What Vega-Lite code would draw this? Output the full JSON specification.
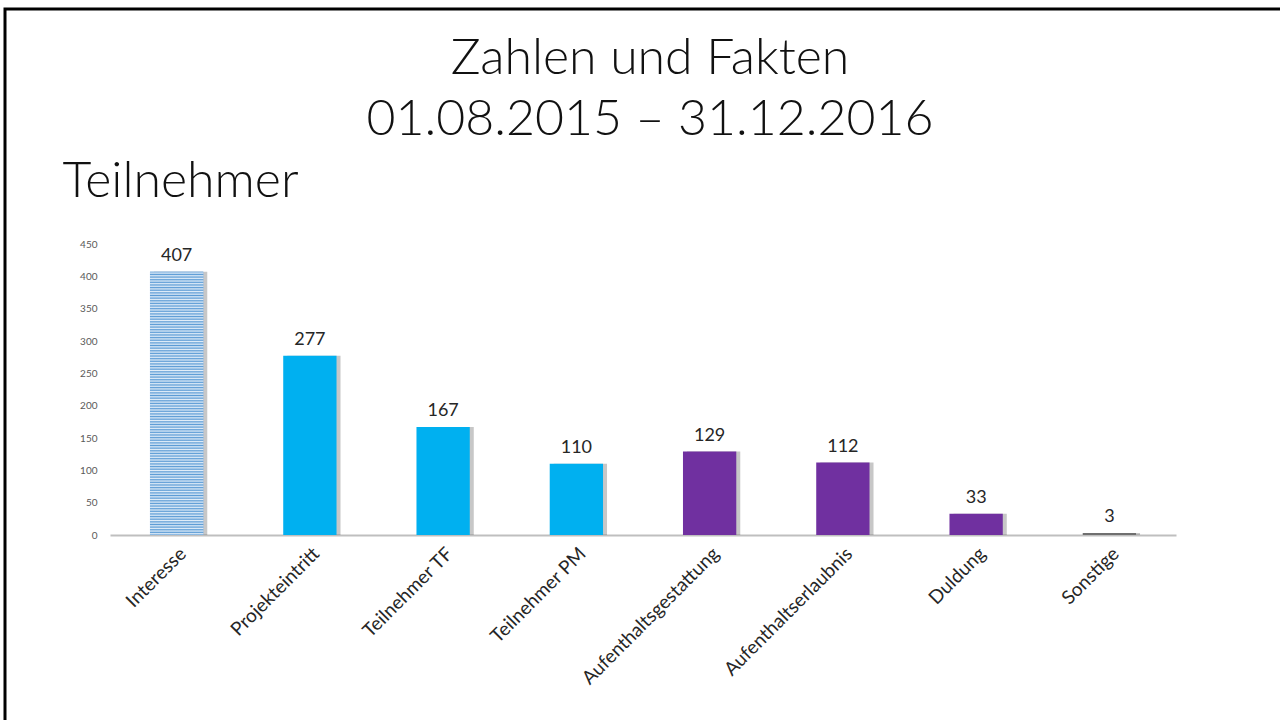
{
  "$schema": "https://vega.github.io/schema/vega-lite/v6.json",
  "width": 1300,
  "height": 760,
  "autosize": {"type": "none"},
  "padding": {"left": 5, "top": 9, "right": 0, "bottom": 0},
  "background": "white",
  "config": {
    "view": {"stroke": "#000000", "strokeWidth": 3},
    "font": "Lato"
  },
  "title": {
    "text": ["Zahlen und Fakten", "01.08.2015 – 31.12.2016"],
    "frame": "group",
    "anchor": "middle",
    "orient": "top",
    "baseline": "top",
    "offset": -136,
    "dx": -5,
    "fontSize": 50,
    "font": "Lato",
    "fontWeight": 300,
    "lineHeight": 61,
    "color": "#111111"
  },
  "data": {
    "values": [
      {"Kategorie": "Interesse", "Anzahl": 407, "Gruppe": "Interesse"},
      {"Kategorie": "Projekteintritt", "Anzahl": 277, "Gruppe": "Teilnahme"},
      {"Kategorie": "Teilnehmer TF", "Anzahl": 167, "Gruppe": "Teilnahme"},
      {"Kategorie": "Teilnehmer PM", "Anzahl": 110, "Gruppe": "Teilnahme"},
      {"Kategorie": "Aufenthaltsgestattung", "Anzahl": 129, "Gruppe": "Status"},
      {"Kategorie": "Aufenthaltserlaubnis", "Anzahl": 112, "Gruppe": "Status"},
      {"Kategorie": "Duldung", "Anzahl": 33, "Gruppe": "Status"},
      {"Kategorie": "Sonstige", "Anzahl": 3, "Gruppe": "Sonstige"}
    ]
  },
  "encoding": {
    "x": {
      "field": "Kategorie",
      "type": "nominal",
      "sort": null,
      "scale": {"range": [105, 1171], "paddingInner": 0.6, "paddingOuter": 0.3},
      "axis": {
        "title": null,
        "offset": -234,
        "labelAngle": -45,
        "labelFontSize": 19,
        "labelColor": "#262626",
        "labelFont": "Lato",
        "labelPadding": 9,
        "labelLimit": 0,
        "labelOverlap": false,
        "ticks": false,
        "domainColor": "#bfbfbf",
        "domainWidth": 2,
        "grid": false
      }
    },
    "y": {
      "field": "Anzahl",
      "type": "quantitative",
      "scale": {"domain": [0, 450], "range": [526, 235], "nice": false},
      "axis": {
        "values": [0, 50, 100, 150, 200, 250, 300, 350, 400, 450],
        "offset": -95,
        "domain": false,
        "ticks": false,
        "grid": false,
        "labelFontSize": 10,
        "labelColor": "#595959",
        "labelPadding": 3,
        "title": "Teilnehmer",
        "titleAngle": 0,
        "titleAlign": "left",
        "titleBaseline": "alphabetic",
        "titleX": -38,
        "titleY": 187,
        "titleFontSize": 50,
        "titleFontWeight": 300,
        "titleFont": "Lato",
        "titleColor": "#111111"
      }
    }
  },
  "layer": [
    {
      "mark": {"type": "bar", "color": "#000000", "opacity": 0.22, "xOffset": 4}
    },
    {
      "mark": {"type": "bar"},
      "encoding": {
        "color": {
          "field": "Gruppe",
          "type": "nominal",
          "scale": {
            "domain": ["Interesse", "Teilnahme", "Status", "Sonstige"],
            "range": ["#86b3e0", "#00b0f0", "#7030a0", "#6f6f6f"]
          },
          "legend": null
        }
      }
    },
    {
      "transform": [{"filter": "datum.Kategorie == 'Interesse'"}],
      "mark": {
        "type": "bar",
        "color": {
          "gradient": "linear",
          "x1": 0, "y1": 0, "x2": 0, "y2": 1,
          "stops": [
            {"offset": 0, "color": "#5b9bd5"}, {"offset": 0.005, "color": "#e2eef9"}, {"offset": 0.01, "color": "#5b9bd5"}, {"offset": 0.015, "color": "#e2eef9"}, {"offset": 0.02, "color": "#5b9bd5"}, {"offset": 0.025, "color": "#e2eef9"}, {"offset": 0.03, "color": "#5b9bd5"}, {"offset": 0.035, "color": "#e2eef9"}, {"offset": 0.04, "color": "#5b9bd5"}, {"offset": 0.045, "color": "#e2eef9"},
            {"offset": 0.05, "color": "#5b9bd5"}, {"offset": 0.055, "color": "#e2eef9"}, {"offset": 0.06, "color": "#5b9bd5"}, {"offset": 0.065, "color": "#e2eef9"}, {"offset": 0.07, "color": "#5b9bd5"}, {"offset": 0.075, "color": "#e2eef9"}, {"offset": 0.08, "color": "#5b9bd5"}, {"offset": 0.085, "color": "#e2eef9"}, {"offset": 0.09, "color": "#5b9bd5"}, {"offset": 0.095, "color": "#e2eef9"},
            {"offset": 0.1, "color": "#5b9bd5"}, {"offset": 0.105, "color": "#e2eef9"}, {"offset": 0.11, "color": "#5b9bd5"}, {"offset": 0.115, "color": "#e2eef9"}, {"offset": 0.12, "color": "#5b9bd5"}, {"offset": 0.125, "color": "#e2eef9"}, {"offset": 0.13, "color": "#5b9bd5"}, {"offset": 0.135, "color": "#e2eef9"}, {"offset": 0.14, "color": "#5b9bd5"}, {"offset": 0.145, "color": "#e2eef9"},
            {"offset": 0.15, "color": "#5b9bd5"}, {"offset": 0.155, "color": "#e2eef9"}, {"offset": 0.16, "color": "#5b9bd5"}, {"offset": 0.165, "color": "#e2eef9"}, {"offset": 0.17, "color": "#5b9bd5"}, {"offset": 0.175, "color": "#e2eef9"}, {"offset": 0.18, "color": "#5b9bd5"}, {"offset": 0.185, "color": "#e2eef9"}, {"offset": 0.19, "color": "#5b9bd5"}, {"offset": 0.195, "color": "#e2eef9"},
            {"offset": 0.2, "color": "#5b9bd5"}, {"offset": 0.205, "color": "#e2eef9"}, {"offset": 0.21, "color": "#5b9bd5"}, {"offset": 0.215, "color": "#e2eef9"}, {"offset": 0.22, "color": "#5b9bd5"}, {"offset": 0.225, "color": "#e2eef9"}, {"offset": 0.23, "color": "#5b9bd5"}, {"offset": 0.235, "color": "#e2eef9"}, {"offset": 0.24, "color": "#5b9bd5"}, {"offset": 0.245, "color": "#e2eef9"},
            {"offset": 0.25, "color": "#5b9bd5"}, {"offset": 0.255, "color": "#e2eef9"}, {"offset": 0.26, "color": "#5b9bd5"}, {"offset": 0.265, "color": "#e2eef9"}, {"offset": 0.27, "color": "#5b9bd5"}, {"offset": 0.275, "color": "#e2eef9"}, {"offset": 0.28, "color": "#5b9bd5"}, {"offset": 0.285, "color": "#e2eef9"}, {"offset": 0.29, "color": "#5b9bd5"}, {"offset": 0.295, "color": "#e2eef9"},
            {"offset": 0.3, "color": "#5b9bd5"}, {"offset": 0.305, "color": "#e2eef9"}, {"offset": 0.31, "color": "#5b9bd5"}, {"offset": 0.315, "color": "#e2eef9"}, {"offset": 0.32, "color": "#5b9bd5"}, {"offset": 0.325, "color": "#e2eef9"}, {"offset": 0.33, "color": "#5b9bd5"}, {"offset": 0.335, "color": "#e2eef9"}, {"offset": 0.34, "color": "#5b9bd5"}, {"offset": 0.345, "color": "#e2eef9"},
            {"offset": 0.35, "color": "#5b9bd5"}, {"offset": 0.355, "color": "#e2eef9"}, {"offset": 0.36, "color": "#5b9bd5"}, {"offset": 0.365, "color": "#e2eef9"}, {"offset": 0.37, "color": "#5b9bd5"}, {"offset": 0.375, "color": "#e2eef9"}, {"offset": 0.38, "color": "#5b9bd5"}, {"offset": 0.385, "color": "#e2eef9"}, {"offset": 0.39, "color": "#5b9bd5"}, {"offset": 0.395, "color": "#e2eef9"},
            {"offset": 0.4, "color": "#5b9bd5"}, {"offset": 0.405, "color": "#e2eef9"}, {"offset": 0.41, "color": "#5b9bd5"}, {"offset": 0.415, "color": "#e2eef9"}, {"offset": 0.42, "color": "#5b9bd5"}, {"offset": 0.425, "color": "#e2eef9"}, {"offset": 0.43, "color": "#5b9bd5"}, {"offset": 0.435, "color": "#e2eef9"}, {"offset": 0.44, "color": "#5b9bd5"}, {"offset": 0.445, "color": "#e2eef9"},
            {"offset": 0.45, "color": "#5b9bd5"}, {"offset": 0.455, "color": "#e2eef9"}, {"offset": 0.46, "color": "#5b9bd5"}, {"offset": 0.465, "color": "#e2eef9"}, {"offset": 0.47, "color": "#5b9bd5"}, {"offset": 0.475, "color": "#e2eef9"}, {"offset": 0.48, "color": "#5b9bd5"}, {"offset": 0.485, "color": "#e2eef9"}, {"offset": 0.49, "color": "#5b9bd5"}, {"offset": 0.495, "color": "#e2eef9"},
            {"offset": 0.5, "color": "#5b9bd5"}, {"offset": 0.505, "color": "#e2eef9"}, {"offset": 0.51, "color": "#5b9bd5"}, {"offset": 0.515, "color": "#e2eef9"}, {"offset": 0.52, "color": "#5b9bd5"}, {"offset": 0.525, "color": "#e2eef9"}, {"offset": 0.53, "color": "#5b9bd5"}, {"offset": 0.535, "color": "#e2eef9"}, {"offset": 0.54, "color": "#5b9bd5"}, {"offset": 0.545, "color": "#e2eef9"},
            {"offset": 0.55, "color": "#5b9bd5"}, {"offset": 0.555, "color": "#e2eef9"}, {"offset": 0.56, "color": "#5b9bd5"}, {"offset": 0.565, "color": "#e2eef9"}, {"offset": 0.57, "color": "#5b9bd5"}, {"offset": 0.575, "color": "#e2eef9"}, {"offset": 0.58, "color": "#5b9bd5"}, {"offset": 0.585, "color": "#e2eef9"}, {"offset": 0.59, "color": "#5b9bd5"}, {"offset": 0.595, "color": "#e2eef9"},
            {"offset": 0.6, "color": "#5b9bd5"}, {"offset": 0.605, "color": "#e2eef9"}, {"offset": 0.61, "color": "#5b9bd5"}, {"offset": 0.615, "color": "#e2eef9"}, {"offset": 0.62, "color": "#5b9bd5"}, {"offset": 0.625, "color": "#e2eef9"}, {"offset": 0.63, "color": "#5b9bd5"}, {"offset": 0.635, "color": "#e2eef9"}, {"offset": 0.64, "color": "#5b9bd5"}, {"offset": 0.645, "color": "#e2eef9"},
            {"offset": 0.65, "color": "#5b9bd5"}, {"offset": 0.655, "color": "#e2eef9"}, {"offset": 0.66, "color": "#5b9bd5"}, {"offset": 0.665, "color": "#e2eef9"}, {"offset": 0.67, "color": "#5b9bd5"}, {"offset": 0.675, "color": "#e2eef9"}, {"offset": 0.68, "color": "#5b9bd5"}, {"offset": 0.685, "color": "#e2eef9"}, {"offset": 0.69, "color": "#5b9bd5"}, {"offset": 0.695, "color": "#e2eef9"},
            {"offset": 0.7, "color": "#5b9bd5"}, {"offset": 0.705, "color": "#e2eef9"}, {"offset": 0.71, "color": "#5b9bd5"}, {"offset": 0.715, "color": "#e2eef9"}, {"offset": 0.72, "color": "#5b9bd5"}, {"offset": 0.725, "color": "#e2eef9"}, {"offset": 0.73, "color": "#5b9bd5"}, {"offset": 0.735, "color": "#e2eef9"}, {"offset": 0.74, "color": "#5b9bd5"}, {"offset": 0.745, "color": "#e2eef9"},
            {"offset": 0.75, "color": "#5b9bd5"}, {"offset": 0.755, "color": "#e2eef9"}, {"offset": 0.76, "color": "#5b9bd5"}, {"offset": 0.765, "color": "#e2eef9"}, {"offset": 0.77, "color": "#5b9bd5"}, {"offset": 0.775, "color": "#e2eef9"}, {"offset": 0.78, "color": "#5b9bd5"}, {"offset": 0.785, "color": "#e2eef9"}, {"offset": 0.79, "color": "#5b9bd5"}, {"offset": 0.795, "color": "#e2eef9"},
            {"offset": 0.8, "color": "#5b9bd5"}, {"offset": 0.805, "color": "#e2eef9"}, {"offset": 0.81, "color": "#5b9bd5"}, {"offset": 0.815, "color": "#e2eef9"}, {"offset": 0.82, "color": "#5b9bd5"}, {"offset": 0.825, "color": "#e2eef9"}, {"offset": 0.83, "color": "#5b9bd5"}, {"offset": 0.835, "color": "#e2eef9"}, {"offset": 0.84, "color": "#5b9bd5"}, {"offset": 0.845, "color": "#e2eef9"},
            {"offset": 0.85, "color": "#5b9bd5"}, {"offset": 0.855, "color": "#e2eef9"}, {"offset": 0.86, "color": "#5b9bd5"}, {"offset": 0.865, "color": "#e2eef9"}, {"offset": 0.87, "color": "#5b9bd5"}, {"offset": 0.875, "color": "#e2eef9"}, {"offset": 0.88, "color": "#5b9bd5"}, {"offset": 0.885, "color": "#e2eef9"}, {"offset": 0.89, "color": "#5b9bd5"}, {"offset": 0.895, "color": "#e2eef9"},
            {"offset": 0.9, "color": "#5b9bd5"}, {"offset": 0.905, "color": "#e2eef9"}, {"offset": 0.91, "color": "#5b9bd5"}, {"offset": 0.915, "color": "#e2eef9"}, {"offset": 0.92, "color": "#5b9bd5"}, {"offset": 0.925, "color": "#e2eef9"}, {"offset": 0.93, "color": "#5b9bd5"}, {"offset": 0.935, "color": "#e2eef9"}, {"offset": 0.94, "color": "#5b9bd5"}, {"offset": 0.945, "color": "#e2eef9"},
            {"offset": 0.95, "color": "#5b9bd5"}, {"offset": 0.955, "color": "#e2eef9"}, {"offset": 0.96, "color": "#5b9bd5"}, {"offset": 0.965, "color": "#e2eef9"}, {"offset": 0.97, "color": "#5b9bd5"}, {"offset": 0.975, "color": "#e2eef9"}, {"offset": 0.98, "color": "#5b9bd5"}, {"offset": 0.985, "color": "#e2eef9"}, {"offset": 0.99, "color": "#5b9bd5"}, {"offset": 0.995, "color": "#e2eef9"},
            {"offset": 1, "color": "#5b9bd5"}
          ]
        }
      }
    },
    {
      "mark": {"type": "text", "baseline": "alphabetic", "dy": -11, "fontSize": 18, "color": "#262626", "font": "Lato"},
      "encoding": {
        "text": {"field": "Anzahl", "type": "quantitative"}
      }
    }
  ]
}
